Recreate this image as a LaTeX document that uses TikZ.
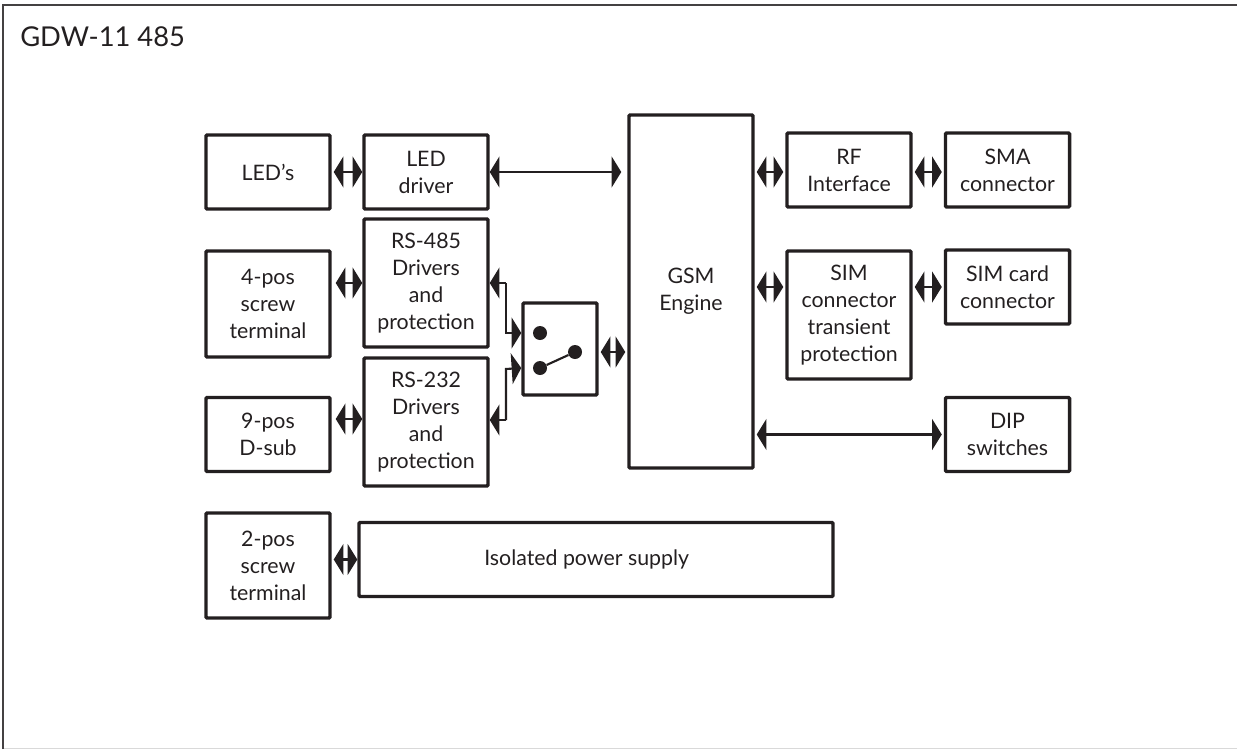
\documentclass[tikz,border=0pt]{standalone}
\usepackage{fontspec}
\setmainfont{Lato}
\usetikzlibrary{arrows.meta}
\definecolor{ink}{HTML}{231F20}
\tikzset{
  blk/.style = {shape=rectangle, rounded corners=0.8pt, draw=ink, line width=2.6pt, align=center,
    text=ink, inner sep=0pt, minimum width=93pt, minimum height=55.5pt,
    font=\fontsize{16}{20.25}\selectfont},
  tall/.style = {minimum height=96pt},
  mid/.style = {minimum height=79.5pt},
  dot/.style = {shape=circle, fill=ink, inner sep=0pt, minimum size=10.5pt},
  biarrow/.style = {draw=ink, line width=1.6pt,
    {Triangle[length=7.2pt,width=23pt]}-{Triangle[length=7.2pt,width=23pt]}},
  onearrow/.style = {draw=ink, line width=1.6pt, -{Triangle[length=7.2pt,width=23pt]}}
}
\begin{document}
\begin{tikzpicture}[x=0.75pt, y=-0.75pt]
  \useasboundingbox (0,0) rectangle (1237,749);
  % frame
  \draw[black!15, line width=0.75pt] (3,748) -- (1237,748);
  \draw[ink!85, line width=1.7pt] (3,749) -- (3,5) -- (1237,5);
  \node[anchor=west, text=ink, inner sep=0pt, font=\fontsize{20.5}{24}\selectfont] (title) at (20,37) {GDW-11 485};
  % left column
  \node[blk] (leds) at (268,172) {LED's};
  \node[blk, mid] (screwfour) at (268,304) {4-pos\\screw\\terminal};
  \node[blk] (dsub) at (268,434.5) {9-pos\\D-sub};
  \node[blk, minimum height=78.75pt] (screwtwo) at (268,565.5) {2-pos\\screw\\terminal};
  % drivers
  \node[blk] (leddrv) at (426,172) {LED\\driver};
  \node[blk, tall] (rsfour) at (426,283) {RS-485\\Drivers\\and\\protection};
  \node[blk, tall] (rstwo) at (426,422) {RS-232\\Drivers\\and\\protection};
  \node[blk, minimum width=355.5pt] (power) at (596,559.5) {Isolated power supply\hspace*{14pt}};
  % switch
  \node[blk, minimum width=55.5pt, minimum height=69pt] (switch) at (560,349) {};
  \node[dot] (swa) at (540,333) {};
  \node[dot] (swb) at (540,368) {};
  \node[dot] (swc) at (575,352) {};
  \draw[draw=ink, line width=1.6pt] (swb) -- (swc);
  % engine and right side
  \node[blk, minimum height=264.75pt] (gsm) at (691,291.5) {GSM\\Engine};
  \node[blk] (rf) at (849,170) {RF\\Interface};
  \node[blk] (sma) at (1007.5,170) {SMA\\connector};
  \node[blk, tall] (simprot) at (849,315) {SIM\\connector\\transient\\protection};
  \node[blk] (simcard) at (1007.5,287) {SIM card\\connector};
  \node[blk] (dip) at (1007.5,434.5) {DIP\\switches};
  % ports off centre
  \coordinate (rstwoport) at (426,419);
  \coordinate (rfrow) at (849,172);
  \coordinate (switchout) at (560,352);
  \coordinate (elba) at (506,283);
  \coordinate (elbb) at (506,333);
  \coordinate (elbc) at (506,420);
  \coordinate (elbd) at (506,369);
  % short links
  \draw[biarrow, shorten <=1.5pt] (leds.east) -- (leddrv.west);
  \draw[biarrow, shorten <=3pt] (rsfour.west -| screwfour.east) -- (rsfour.west);
  \draw[biarrow, shorten <=3pt] (rstwoport -| dsub.east) -- (rstwoport -| rstwo.west);
  \draw[biarrow, shorten <=1.5pt] (power.west -| screwtwo.east) -- (power.west);
  \draw[biarrow, shorten <=1.5pt, shorten >=1.5pt] (rfrow -| gsm.east) -- (rfrow -| rf.west);
  \draw[biarrow, shorten <=1.5pt, shorten >=1.5pt] (rfrow -| rf.east) -- (rfrow -| sma.west);
  \draw[biarrow, shorten <=1.5pt, shorten >=1.5pt] (simcard.west -| gsm.east) -- (simcard.west -| simprot.west);
  \draw[biarrow, shorten <=1.5pt, shorten >=1.5pt] (simcard.west -| simprot.east) -- (simcard.west);
  \draw[biarrow, shorten <=1.5pt, shorten >=1.5pt] (switchout -| switch.east) -- (switchout -| gsm.west);
  % long links
  \draw[biarrow, shorten >=4.5pt] (leddrv.east) -- (leddrv.east -| gsm.west);
  \draw[biarrow, shorten <=1.5pt, shorten >=1.5pt] (dip.west -| gsm.east) -- (dip.west);
  % switch feeds
  \draw[onearrow] (elba) -- (elbb) -- (swa -| switch.west);
  \draw[onearrow] (elba) -- (rsfour.east);
  \draw[onearrow] (elbc) -- (elbd) -- (swb -| switch.west);
  \draw[onearrow] (elbc) -- (elbc -| rstwo.east);
\end{tikzpicture}
\end{document}
